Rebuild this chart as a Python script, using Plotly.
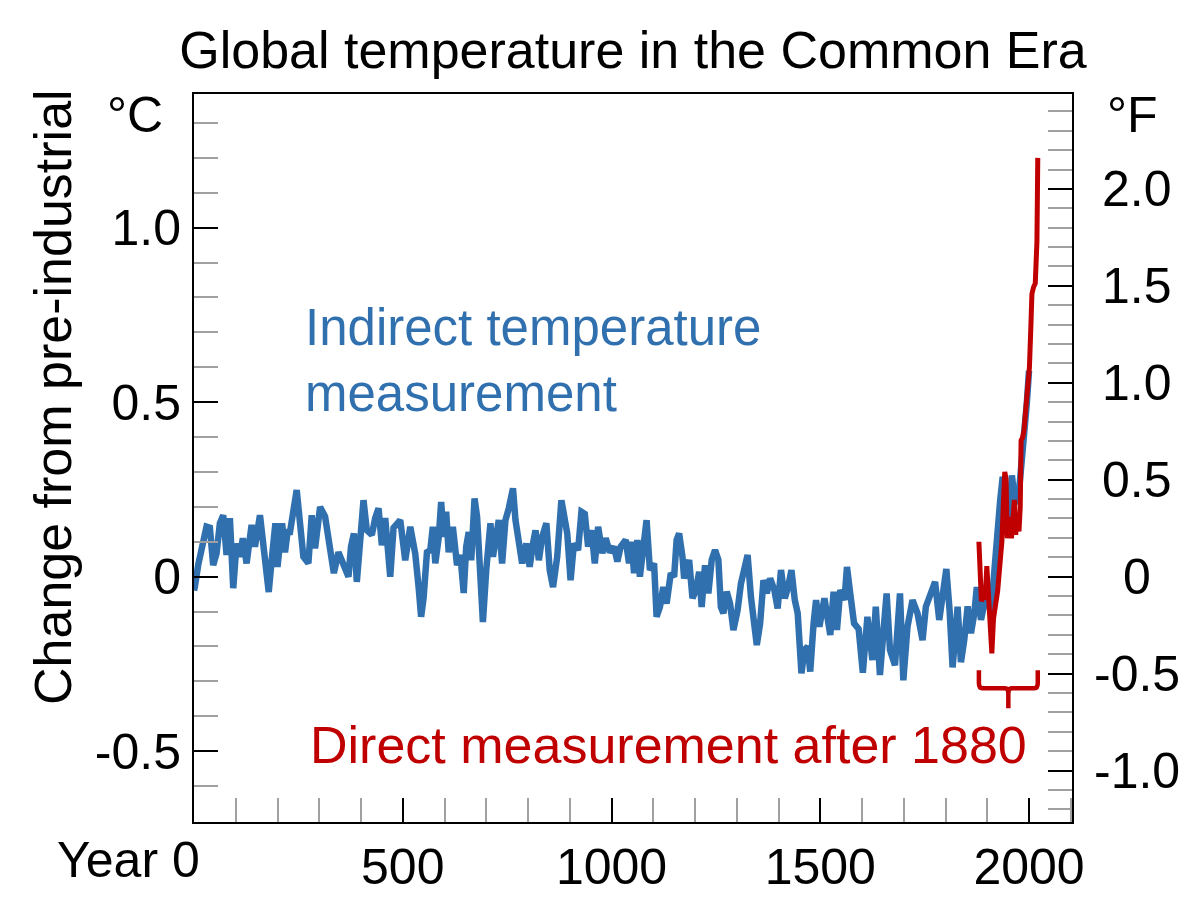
import plotly.graph_objects as go

# ---------------- data ----------------
proxy_years = [0, 2, 10, 22, 30, 38, 46, 54, 62, 70, 78, 86, 94, 102, 110, 117, 126, 138, 146, 158,
               168, 179, 186, 195, 200, 211, 218, 224, 230, 237, 246, 254, 262, 274, 282, 290, 302, 314, 326, 335,
               346, 358, 370, 376, 383, 390, 398, 406, 414, 426, 434, 442, 450, 458, 470, 478, 494, 506, 518, 530,
               538, 544, 550, 558, 566, 572, 578, 586, 592, 598, 604, 610, 620, 630, 638, 646, 652, 658, 664, 672,
               678, 686, 692, 700, 710, 716, 724, 730, 738, 746, 754, 764, 770, 778, 786, 796, 804, 812, 818, 826,
               834, 844, 852, 860, 870, 880, 888, 894, 902, 910, 920, 928, 936, 944, 952, 960, 968, 978, 986, 996,
               1006, 1014, 1022, 1034, 1042, 1048, 1054, 1062, 1068, 1076, 1084, 1092, 1102, 1108, 1116, 1124, 1132, 1142, 1150, 1156,
               1162, 1170, 1174, 1186, 1194, 1202, 1210, 1216, 1224, 1232, 1240, 1248, 1256, 1262, 1268, 1276, 1284, 1292, 1302, 1310,
               1318, 1326, 1334, 1342, 1348, 1356, 1364, 1372, 1380, 1390, 1398, 1406, 1415, 1423, 1431, 1439, 1446, 1455, 1462, 1470,
               1476, 1484, 1490, 1498, 1510, 1524, 1532, 1540, 1548, 1558, 1564, 1572, 1581, 1592, 1602, 1613, 1625, 1633, 1643, 1651,
               1659, 1667, 1679, 1691, 1699, 1709, 1721, 1733, 1745, 1753, 1765, 1775, 1785, 1793, 1802, 1810, 1817, 1829, 1837, 1845,
               1853, 1861, 1869, 1875, 1885, 1893, 1901, 1909, 1919, 1925, 1931, 1937, 1945, 1953, 1959, 1967, 1975, 1985, 1989, 1995,
               2000]
proxy_temps = [-0.04, -0.03, 0.033, 0.095, 0.143, 0.14, 0.033, 0.067, 0.153, 0.176, 0.062, 0.168, -0.033, 0.095, 0.057, 0.11, 0.038, 0.148, 0.086, 0.176,
               0.067, -0.044, 0.047, 0.153, 0.028, 0.153, 0.07, 0.128, 0.128, 0.18, 0.248, 0.153, 0.057, 0.038, 0.176, 0.081, 0.2, 0.172, 0.062, 0.01,
               0.07, 0.028, 0.0, 0.086, 0.124, -0.015, 0.114, 0.219, 0.133, 0.12, 0.168, 0.196, 0.09, 0.168, 0.0, 0.14, 0.162, 0.047, 0.143, 0.065,
               -0.03, -0.115, -0.06, 0.07, 0.076, 0.143, 0.038, 0.11, 0.214, 0.114, 0.186, 0.07, 0.143, 0.033, 0.062, -0.047, 0.086, 0.128, 0.047, 0.224,
               0.172, 0.019, -0.13, 0.019, 0.153, 0.057, 0.114, 0.162, 0.038, 0.162, 0.196, 0.253, 0.162, 0.09, 0.038, 0.095, 0.028, 0.095, 0.133, 0.047,
               0.114, 0.153, 0.019, -0.03, 0.057, 0.219, 0.162, 0.124, -0.01, 0.095, 0.076, 0.186, 0.18, 0.086, 0.133, 0.038, 0.143, 0.067, 0.11, 0.07,
               0.086, 0.043, 0.086, 0.105, 0.038, 0.1, 0.01, 0.105, 0.0, 0.076, 0.162, 0.019, 0.038, -0.115, -0.087, -0.03, -0.077, 0.01, 0.0, 0.105,
               0.124, 0.057, -0.005, 0.048, -0.062, -0.04, 0.014, -0.087, 0.033, -0.048, 0.048, 0.076, 0.048, -0.087, -0.105, -0.043, -0.077, -0.153, -0.096, -0.02,
               0.019, 0.062, -0.058, -0.124, -0.196, -0.134, -0.01, -0.048, -0.005, -0.038, -0.091, 0.019, -0.062, -0.03, 0.019, -0.067, -0.105, -0.277, -0.21, -0.2,
               -0.272, -0.134, -0.067, -0.143, -0.062, -0.167, -0.043, -0.153, -0.038, -0.067, 0.028, -0.05, -0.134, -0.15, -0.275, -0.115, -0.239, -0.086, -0.282, -0.163,
               -0.048, -0.21, -0.254, -0.048, -0.297, -0.143, -0.067, -0.105, -0.182, -0.086, -0.048, -0.015, -0.124, -0.067, 0.022, -0.1, -0.26, -0.086, -0.245, -0.18,
               -0.085, -0.162, -0.105, -0.03, -0.124, -0.077, -0.072, -0.1, 0.067, 0.115, 0.219, 0.286, 0.23, 0.172, 0.29, 0.21, 0.23, 0.354, 0.43, 0.5,
               0.59]

direct_years = [1880, 1883, 1886, 1890, 1895, 1899, 1903, 1907, 1911, 1915, 1920, 1925, 1930, 1935, 1939, 1942, 1945, 1948, 1952, 1955,
                1958, 1962, 1965, 1968, 1972, 1976, 1979, 1981, 1985, 1988, 1991, 1994, 1998, 2001, 2004, 2007, 2011, 2015, 2017, 2019,
                2021]
direct_temps = [0.10, -0.05, -0.07, -0.06, -0.06, 0.03, -0.06, -0.15, -0.22, -0.12, -0.08, -0.04, 0.03, 0.10, 0.22, 0.30, 0.28, 0.11, 0.16, 0.17,
                0.11, 0.20, 0.22, 0.12, 0.16, 0.13, 0.20, 0.39, 0.40, 0.42, 0.46, 0.52, 0.55, 0.60, 0.70, 0.81, 0.83, 0.84, 0.90, 0.96,
                1.20]

c_major = [-0.5, 0.0, 0.5, 1.0]
c_labels = ["-0.5", "0", "0.5", "1.0"]
f_major = [-1.0, -0.5, 0.0, 0.5, 1.0, 1.5, 2.0]
f_labels = ["-1.0", "-0.5", "0", "0.5", "1.0", "1.5", "2.0"]
x_major = [500, 1000, 1500, 2000]
x_labels = ["500", "1000", "1500", "2000"]

TITLE = "Global temperature in the Common Era"
YLABEL = "Change from pre-industrial"
PROXY_LABEL = "Indirect temperature<br>measurement"
DIRECT_LABEL = "Direct measurement after 1880"

# ---------------- styling ----------------
BLUE = "#3070AE"
RED = "#C00000"
FONT = "Liberation Sans, Arial, sans-serif"
C_RANGE = [-0.703, 1.383]
F_RANGE = [C_RANGE[0] * 1.8, C_RANGE[1] * 1.8]
X_RANGE = [0, 2103]

x_minor = [v for v in range(100, 2101, 100) if v % 500 != 0]
c_minor = [round(v / 10, 1) for v in range(-6, 14) if v % 5 != 0]
f_minor = [round(v / 10, 1) for v in range(-12, 25) if v % 5 != 0]

fig = go.Figure()
fig.add_trace(go.Scatter(x=proxy_years, y=proxy_temps, mode="lines",
                         line=dict(color=BLUE, width=6.5), hoverinfo="skip", showlegend=False))
fig.add_trace(go.Scatter(x=direct_years, y=direct_temps, mode="lines",
                         line=dict(color=RED, width=5), hoverinfo="skip", showlegend=False))
fig.add_trace(go.Scatter(x=[direct_years[0]], y=[direct_temps[0] * 1.8], yaxis="y2", mode="markers",
                         marker=dict(opacity=0), hoverinfo="skip", showlegend=False))

tick_common = dict(ticks="inside", ticklen=24, tickwidth=2, tickcolor="black",
                   showline=True, linecolor="black", linewidth=2,
                   showgrid=False, zeroline=False, automargin=False,
                   tickfont=dict(family=FONT, size=50, color="black"))
minor_common = dict(ticks="inside", ticklen=24, tickwidth=1.5, tickcolor="#a0a0a0", showgrid=False)

fig.update_layout(
    width=1200, height=900,
    margin=dict(l=194, r=128, t=94, b=78, autoexpand=False),
    paper_bgcolor="white", plot_bgcolor="white",
    title=dict(text=TITLE, x=0.5, xref="paper", xanchor="center",
               y=1 - 50 / 900, yref="container", yanchor="middle",
               font=dict(family=FONT, size=52, color="black")),
    xaxis=dict(range=X_RANGE, tickmode="array", tickvals=x_major, ticktext=x_labels,
               mirror=True, ticklabelstandoff=0,
               minor=dict(tickmode="array", tickvals=x_minor, **minor_common), **tick_common),
    yaxis=dict(range=C_RANGE, tickmode="array", tickvals=c_major, ticktext=c_labels,
               ticklabelstandoff=1,
               minor=dict(tickmode="array", tickvals=c_minor, **minor_common), **tick_common),
    yaxis2=dict(range=F_RANGE, overlaying="y", side="right", tickmode="array", tickvals=f_major,
                showticklabels=False,
                minor=dict(tickmode="array", tickvals=f_minor, **minor_common), **tick_common),
)

ann_font = dict(family=FONT, size=50, color="black")
annotations = [
    dict(text="°C", xref="paper", yref="paper", x=(135 - 194) / 878, y=(822 - 115) / 728,
         xanchor="center", yanchor="middle", showarrow=False, font=ann_font),
    dict(text="°F", xref="paper", yref="paper", x=(1132 - 194) / 878, y=(822 - 115) / 728,
         xanchor="center", yanchor="middle", showarrow=False, font=ann_font),
    dict(text=YLABEL, xref="paper", yref="paper", x=(53 - 194) / 878, y=(822 - 397) / 728,
         xanchor="center", yanchor="middle", textangle=-90, showarrow=False,
         font=dict(family=FONT, size=52, color="black")),
    dict(text="Year 0", xref="paper", yref="paper", x=(202 - 194) / 878, y=(822 - 860) / 728,
         xanchor="right", yanchor="middle", showarrow=False, font=ann_font),
    dict(text=PROXY_LABEL, xref="x", yref="y", x=(303 - 194) / 0.417, y=(576.5 - 360) / 349,
         xanchor="left", yanchor="middle", align="left", showarrow=False,
         font=dict(family=FONT, size=51, color=BLUE)),
    dict(text=DIRECT_LABEL, xref="x", yref="y", x=(668 - 194) / 0.417, y=(576.5 - 745) / 349,
         xanchor="center", yanchor="middle", showarrow=False,
         font=dict(family=FONT, size=52, color=RED)),
]
for v, t in zip(f_major, f_labels):
    annotations.append(dict(text=t, xref="paper", yref="y2", x=(1137 - 194) / 878, y=v,
                            xanchor="center", yanchor="middle", showarrow=False, font=ann_font))
fig.update_layout(annotations=annotations)

# bracket under the direct-measurement series
b0, b1 = direct_years[0], direct_years[-1]
bm = (b0 + b1) / 2
top, mid, tip = -0.268, -0.32, -0.377
r_x, r_y = 8, 0.015
path = (f"M {b0},{top} L {b0},{mid + r_y} Q {b0},{mid} {b0 + r_x},{mid} L {bm - r_x},{mid} "
        f"Q {bm},{mid} {bm},{mid - r_y} L {bm},{tip} "
        f"M {bm},{mid - r_y} Q {bm},{mid} {bm + r_x},{mid} L {b1 - r_x},{mid} "
        f"Q {b1},{mid} {b1},{mid + r_y} L {b1},{top}")
fig.add_shape(type="path", path=path, xref="x", yref="y", line=dict(color=RED, width=4.5))

fig.write_html("out.html", config={"displayModeBar": False},
               post_script="document.body.style.margin='0';")
